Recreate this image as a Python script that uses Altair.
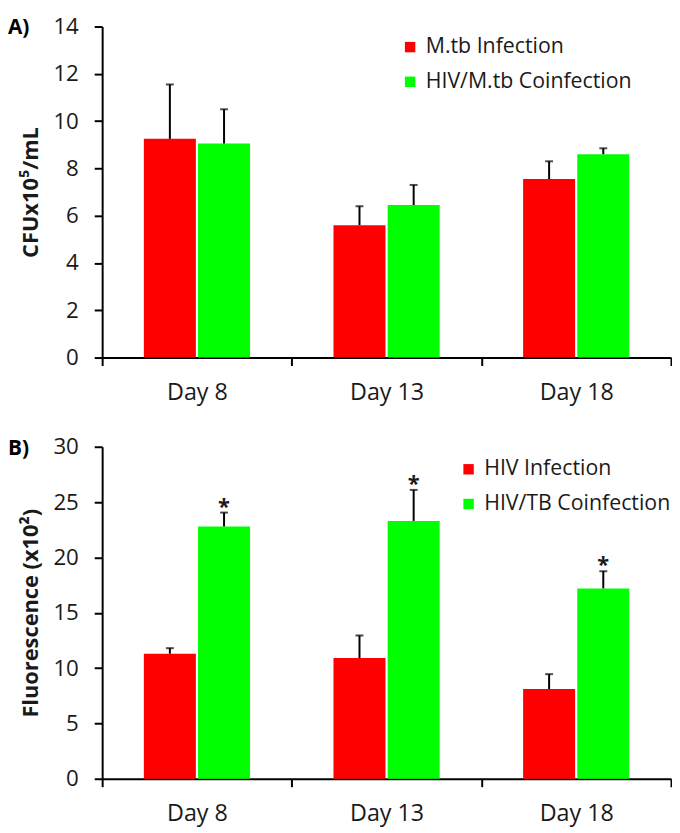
import altair as alt
import pandas as pd

FONT = "Open Sans"

days = ["Day 8", "Day 13", "Day 18"]

a_series = ["M.tb Infection", "HIV/M.tb Coinfection"]
a_mtb = [9.25, 5.6, 7.55]
a_mtb_err = [2.3, 0.8, 0.75]
a_co = [9.05, 6.45, 8.6]
a_co_err = [1.45, 0.85, 0.25]
a_sig = ["", "", ""]

b_series = ["HIV Infection", "HIV/TB Coinfection"]
b_hiv = [11.3, 10.9, 8.1]
b_hiv_err = [0.5, 2.05, 1.35]
b_co = [22.8, 23.3, 17.2]
b_co_err = [1.25, 2.8, 1.55]
b_sig = ["*", "*", "*"]

colors = ["#ff0000", "#00ff00"]


def make_df(series, v1, e1, v2, e2, sig2):
    rows = []
    for i, d in enumerate(days):
        rows.append({"day": d, "series": series[0], "value": v1[i], "top": v1[i] + e1[i], "star": ""})
        rows.append({"day": d, "series": series[1], "value": v2[i], "top": v2[i] + e2[i], "star": sig2[i]})
    return pd.DataFrame(rows)


df_a = make_df(a_series, a_mtb, a_mtb_err, a_co, a_co_err, a_sig)
df_b = make_df(b_series, b_hiv, b_hiv_err, b_co, b_co_err, b_sig)


def panel(df, series, ymax, ystep, ytitle, letter, lx, ly, height):
    base = alt.Chart(df)
    x = alt.X("day:N", sort=days,
              scale=alt.Scale(paddingInner=0, paddingOuter=0),
              axis=alt.Axis(title=None, labelAngle=0, tickBand="extent",
                            labelFontSize=23.5, labelPadding=15))
    xo = alt.XOffset("series:N", sort=series,
                     scale=alt.Scale(domain=series, paddingInner=0.04, paddingOuter=0.77))
    y = alt.Y("value:Q",
              scale=alt.Scale(domain=[0, ymax], nice=False),
              axis=alt.Axis(title=ytitle, values=list(range(0, ymax + 1, ystep)),
                            labelFontSize=22.5, labelPadding=16,
                            titleFontSize=22, titleFontWeight="bold",
                            titlePadding=10))
    color = alt.Color("series:N",
                      scale=alt.Scale(domain=series, range=colors),
                      legend=alt.Legend(title=None, orient="none", legendX=lx, legendY=ly,
                                        symbolType="square", symbolSize=110,
                                        symbolStrokeWidth=0, labelFontSize=21.5,
                                        labelFont=FONT, labelColor="#1a1a1a", labelLimit=0,
                                        rowPadding=12, padding=0, labelOffset=5))
    bars = base.mark_bar().encode(x=x, xOffset=xo, y=y, color=color)
    rule = base.mark_rule(color="black", strokeWidth=2).encode(
        x=x, xOffset=xo, y="value:Q", y2="top:Q")
    cap = base.mark_tick(color="black", thickness=2, size=8, orient="horizontal").encode(
        x=x, xOffset=xo, y="top:Q")
    star = base.mark_text(font=FONT, fontSize=22, fontWeight="bold", color="#1a1a1a",
                          baseline="middle", dy=-6).encode(
        x=x, xOffset=xo, y="top:Q", text="star:N")
    lab = alt.Chart(pd.DataFrame({"t": [letter]})).mark_text(
        font=FONT, fontSize=21, fontWeight="bold", align="left", baseline="middle", color="black"
    ).encode(x=alt.value(-95), y=alt.value(2), text="t:N")
    return alt.layer(bars, rule, cap, star, lab).properties(width=574, height=height)


pa = panel(df_a, a_series, 14, 2, "CFUx10⁵/mL", "A)", 300, 10, 334)
pb = panel(df_b, b_series, 30, 5, "Fluorescence (x10²)", "B)", 359, 12, 335)

chart = alt.vconcat(pa, pb, spacing=32).resolve_scale(
    color="independent", x="independent", y="independent", xOffset="independent"
).configure_view(stroke=None).configure_axis(
    grid=False, domainColor="black", domainWidth=2, tickColor="black", tickWidth=2,
    tickSize=8, labelFont=FONT, titleFont=FONT, labelColor="#1a1a1a", titleColor="#1a1a1a"
).properties(padding={"left": 0, "top": 4, "right": 0, "bottom": 0})

chart.save("out.html", embed_options={"renderer": "svg", "actions": False})
